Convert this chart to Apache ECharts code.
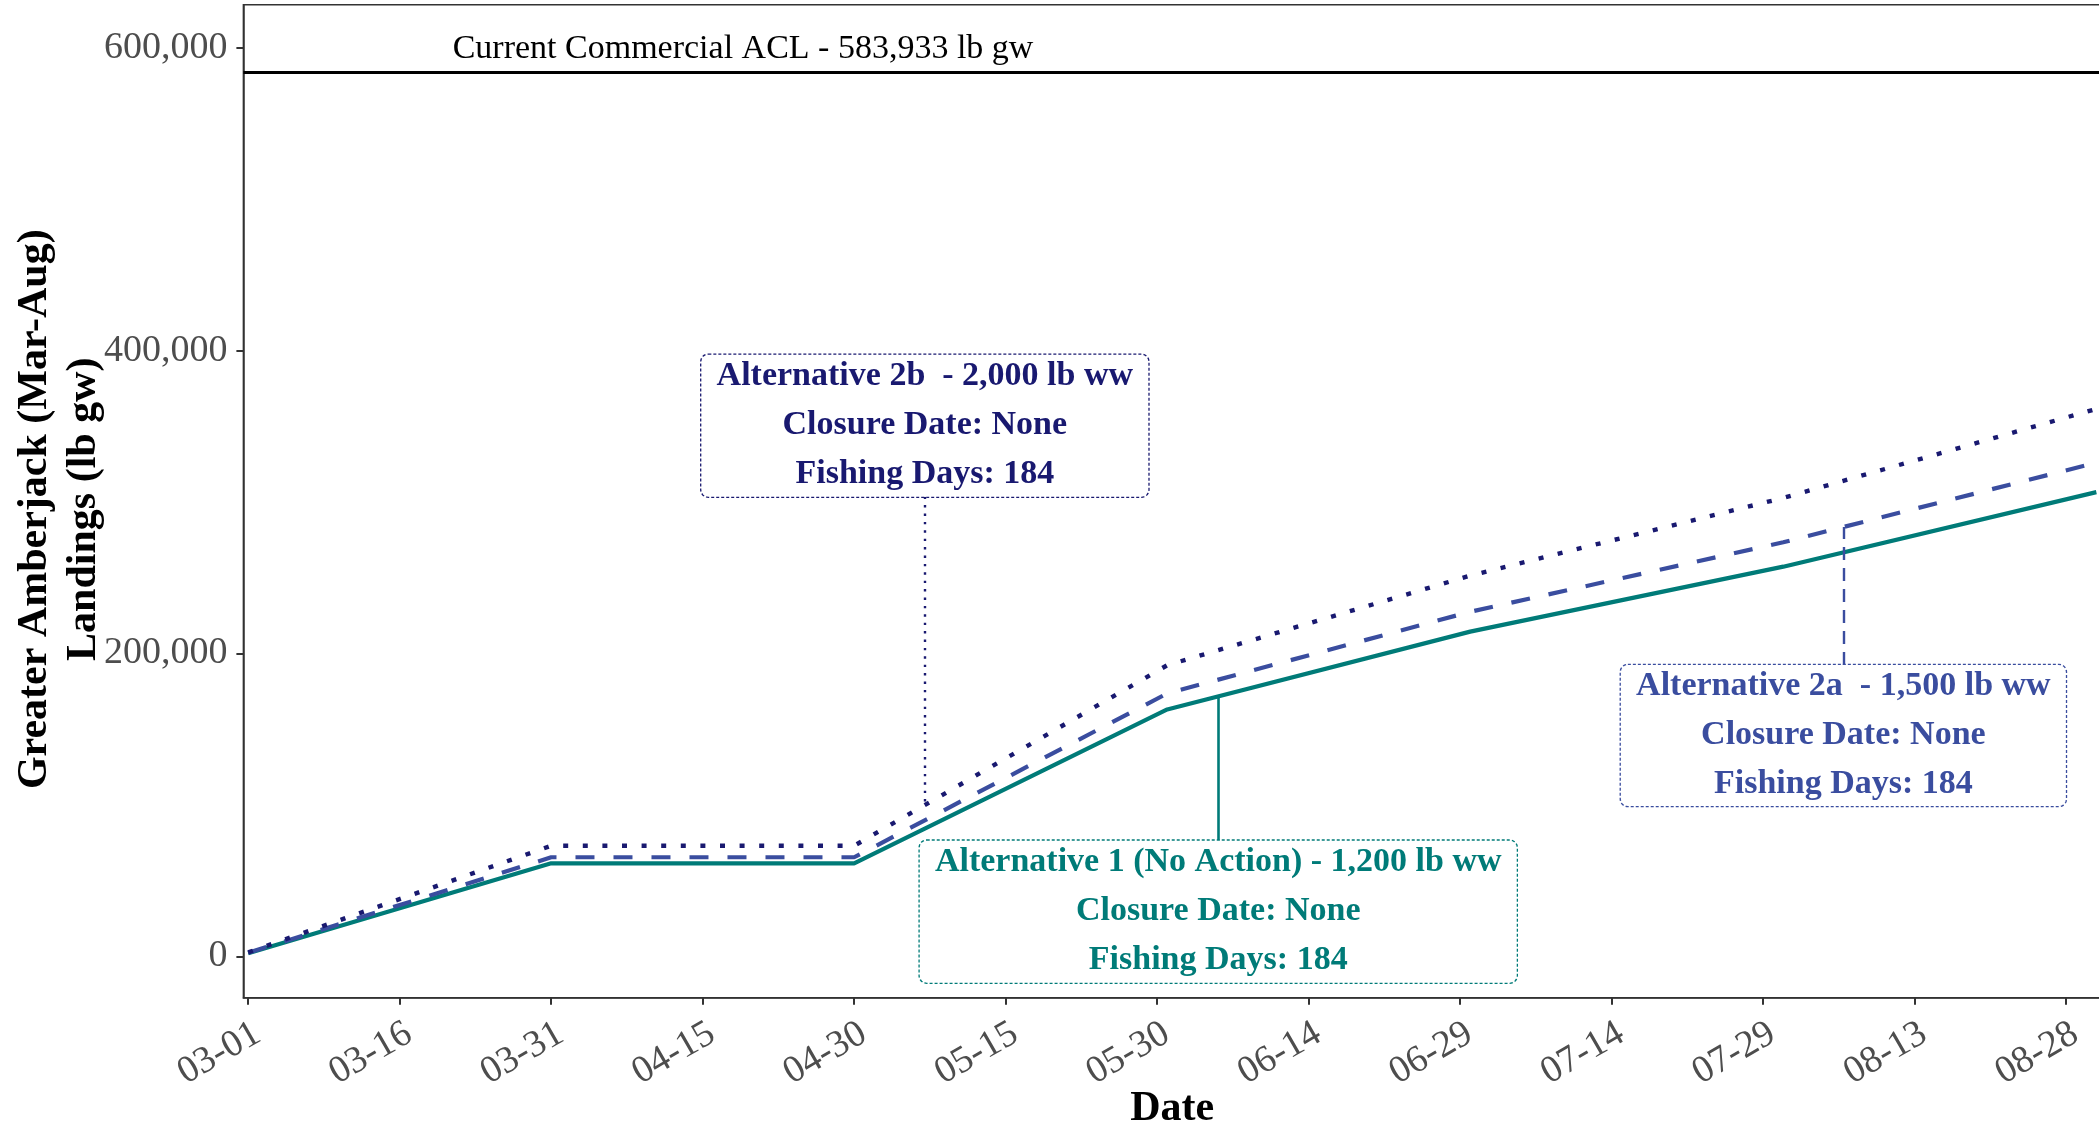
<!DOCTYPE html>
<html>
<head>
<meta charset="utf-8">
<script src="https://cdn.jsdelivr.net/npm/echarts@6/dist/echarts.min.js"></script>
<style>
html,body{margin:0;padding:0;background:#fff;}
#chart{width:2099px;height:1122px;}
</style>
</head>
<body>
<div id="chart"></div>
<script>
// ---------- data ----------
const dates = ['03-01', '03-31', '04-30', '05-31', '06-30', '07-31', '08-31'];
const alt1  = [2000, 61400, 61400, 163000, 214400, 257300, 306500];
const alt2a = [2300, 65400, 65400, 173600, 227500, 273400, 326000];
const alt2b = [2600, 73000, 73000, 192200, 251400, 302700, 361500];
const xTickLabels = ['03-01','03-16','03-31','04-15','04-30','05-15','05-30','06-14','06-29','07-14','07-29','08-13','08-28'];
const yTicks = [0, 200000, 400000, 600000];
const ACL = 583933;
const aclLabel = 'Current Commercial ACL - 583,933 lb gw';
const alt1Text  = ['Alternative 1 (No Action) - 1,200 lb ww', 'Closure Date: None', 'Fishing Days: 184'];
const alt2aText = ['Alternative 2a  - 1,500 lb ww', 'Closure Date: None', 'Fishing Days: 184'];
const alt2bText = ['Alternative 2b  - 2,000 lb ww', 'Closure Date: None', 'Fishing Days: 184'];

// ---------- helpers ----------
const BASE = Date.UTC(2023, 2, 1);
function dayOf(md) { const p = md.split('-').map(Number); return (Date.UTC(2023, p[0] - 1, p[1]) - BASE) / 86400000; }
const days = dates.map(dayOf);
const tickDays = xTickLabels.map(dayOf);
function pairs(vals) { return days.map((d, i) => [d, vals[i]]); }
function interp(vals, d) {
  for (let i = 0; i < days.length - 1; i++) {
    if (d >= days[i] && d <= days[i + 1]) {
      const t = (d - days[i]) / (days[i + 1] - days[i]);
      return vals[i] + t * (vals[i + 1] - vals[i]);
    }
  }
  return vals[vals.length - 1];
}

// ---------- layout / style ----------
const FONT = "'Liberation Serif', 'Times New Roman', serif";
const C1 = '#007B78', C2A = '#3A4D9F', C2B = '#191970';
const layout = {
  acl:  { day: 49, value: 598933 },
  alt2b: { day: 67.0, value: 350400, w: 447, h: 142, edge: 303500 },
  alt1:  { day: 96.05, value: 29500, w: 597, h: 142, edge: 76300 },
  alt2a: { day: 157.95, value: 145800, w: 445, h: 141, edge: 192400 }
};

function boxPoint(cfg, lines, color) {
  return {
    coord: [cfg.day, cfg.value],
    symbol: 'rect', symbolSize: 0,
    label: {
      show: true, position: 'inside',
      formatter: lines.join('\n'),
      color: color, fontFamily: FONT, fontWeight: 'bold', fontSize: 34,
      lineHeight: 49, align: 'center', verticalAlign: 'middle',
      width: cfg.w, height: cfg.h - 4, padding: [4, 0, 0, 0],
      backgroundColor: '#fff', borderColor: color, borderWidth: 1.3,
      borderType: [3, 2], borderRadius: 7
    }
  };
}
function connector(cfg, vals, color, width, dash) {
  return [
    { coord: [cfg.day, cfg.edge], lineStyle: { color: color, width: width, type: dash } },
    { coord: [cfg.day, interp(vals, cfg.day)] }
  ];
}

const chart = echarts.init(document.getElementById('chart'), null, { renderer: 'canvas' });
const option = {
  animation: false,
  backgroundColor: '#fff',
  grid: {
    left: 243.4, top: 4.7, right: -2, bottom: 124.3,
    containLabel: false, outerBoundsMode: 'none',
    show: true, borderColor: '#333', borderWidth: 1.5, backgroundColor: 'transparent'
  },
  xAxis: {
    type: 'value', min: -0.475, max: 183.46,
    name: 'Date', nameLocation: 'middle', nameGap: 90, nameMoveOverlap: false,
    nameTextStyle: { fontFamily: FONT, fontWeight: 'bold', fontSize: 42, color: '#000' },
    axisLine: { show: true, onZero: false, lineStyle: { color: '#333', width: 1.5 } },
    axisTick: { show: true, length: 7, lineStyle: { color: '#333', width: 2 }, customValues: tickDays },
    axisLabel: {
      customValues: tickDays, rotate: 30, margin: 17, verticalAlign: 'top',
      formatter: v => xTickLabels[tickDays.indexOf(v)] || '',
      fontFamily: FONT, fontSize: 38, color: '#4D4D4D'
    },
    splitLine: { show: false }
  },
  yAxis: {
    type: 'value', min: -27340, max: 628410,
    name: 'Greater Amberjack (Mar-Aug)\nLandings (lb gw)', nameLocation: 'middle', nameGap: 135, nameRotate: 90, nameMoveOverlap: false,
    nameTextStyle: { fontFamily: FONT, fontWeight: 'bold', fontSize: 42, color: '#000', lineHeight: 49, align: 'center', padding: [0, 16, 0, 0] },
    axisLine: { show: true, onZero: false, lineStyle: { color: '#333', width: 1.5 } },
    axisTick: { show: true, length: 7, lineStyle: { color: '#333', width: 2 }, customValues: yTicks },
    axisLabel: {
      customValues: yTicks, margin: 16,
      formatter: v => Number(v).toLocaleString('en-US'),
      fontFamily: FONT, fontSize: 38, color: '#4D4D4D'
    },
    splitLine: { show: false }
  },
  series: [
    {
      name: 'Alternative 1', type: 'line', data: pairs(alt1), symbol: 'none', z: 3,
      lineStyle: { color: C1, width: 4.2, type: 'solid' },
      markLine: {
        silent: true, symbol: ['none', 'none'], animation: false,
        label: { show: false },
        data: [
          { yAxis: ACL, lineStyle: { color: '#000', width: 3.2, type: 'solid' } },
          connector(layout.alt1, alt1, C1, 2.6, 'solid')
        ]
      },
      markPoint: {
        silent: true, animation: false,
        data: [
          boxPoint(layout.alt1, alt1Text, C1),
          {
            coord: [layout.acl.day, layout.acl.value], symbol: 'rect', symbolSize: 0,
            label: { show: true, position: 'inside', formatter: aclLabel, color: '#000', fontFamily: FONT, fontSize: 34 }
          }
        ]
      }
    },
    {
      name: 'Alternative 2a', type: 'line', data: pairs(alt2a), symbol: 'none', z: 4,
      lineStyle: { color: C2A, width: 4.2, type: [19, 19], cap: 'butt' },
      markLine: {
        silent: true, symbol: ['none', 'none'], animation: false,
        label: { show: false },
        data: [ connector(layout.alt2a, alt2a, C2A, 2.4, [13, 8]) ]
      },
      markPoint: { silent: true, animation: false, data: [ boxPoint(layout.alt2a, alt2aText, C2A) ] }
    },
    {
      name: 'Alternative 2b', type: 'line', data: pairs(alt2b), symbol: 'none', z: 5,
      lineStyle: { color: C2B, width: 4.4, type: [5, 14.6], cap: 'butt' },
      markLine: {
        silent: true, symbol: ['none', 'none'], animation: false,
        label: { show: false },
        data: [ connector(layout.alt2b, alt2b, C2B, 2.4, [2.4, 6]) ]
      },
      markPoint: { silent: true, animation: false, data: [ boxPoint(layout.alt2b, alt2bText, C2B) ] }
    }
  ]
};
chart.setOption(option);
</script>
</body>
</html>
